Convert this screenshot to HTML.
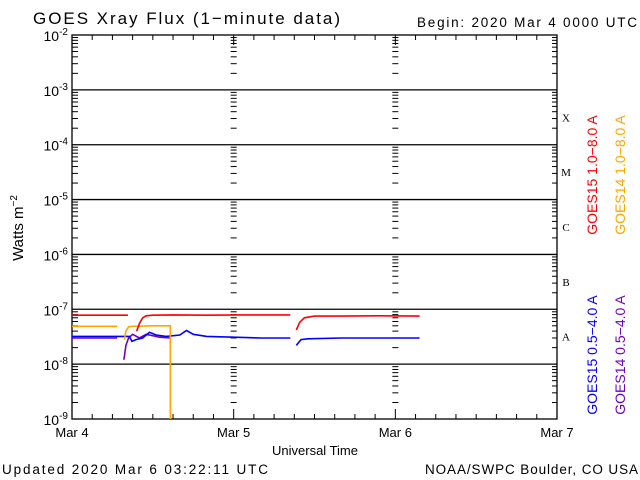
<!DOCTYPE html>
<html><head><meta charset="utf-8"><style>
body{margin:0;background:#fff}
svg{display:block;font-family:"Liberation Sans",sans-serif}
</style></head><body>
<svg id="c" width="640" height="480" viewBox="0 0 640 480">
<rect width="640" height="480" fill="#fff"/>
<text x="33" y="24" font-size="17" textLength="307" lengthAdjust="spacing">GOES Xray Flux (1−minute data)</text>
<text x="417" y="27" font-size="13.5" textLength="220" lengthAdjust="spacing">Begin:  2020 Mar 4 0000 UTC</text>
<text transform="translate(23,228) rotate(-90)" font-size="15" text-anchor="middle">Watts m<tspan dy="-6" font-size="10">−2</tspan></text>
<text x="315" y="455" font-size="13" text-anchor="middle">Universal Time</text>
<text x="2" y="474" font-size="13.5" textLength="266" lengthAdjust="spacing">Updated 2020 Mar  6 03:22:11 UTC</text>
<text x="425" y="474" font-size="13.5" textLength="213" lengthAdjust="spacing">NOAA/SWPC Boulder, CO USA</text>
<text transform="translate(597,175) rotate(-90)" font-size="14" fill="#f00" text-anchor="middle">GOES15 1.0−8.0 A</text>
<text transform="translate(625,175) rotate(-90)" font-size="14" fill="#ffa500" text-anchor="middle">GOES14 1.0−8.0 A</text>
<text transform="translate(597,355) rotate(-90)" font-size="14" fill="#00f" text-anchor="middle">GOES15 0.5−4.0 A</text>
<text transform="translate(625,355) rotate(-90)" font-size="14" fill="#7000c0" text-anchor="middle">GOES14 0.5−4.0 A</text>
<g id="g"></g>
</svg>
<script>
const yTickExps=[-2,-3,-4,-5,-6,-7,-8,-9];
const xTickLabels=["Mar 4","Mar 5","Mar 6","Mar 7"];
const classLabels=["X","M","C","B","A"];
const classExps=[-3.5,-4.5,-5.5,-6.5,-7.5];
// times in hours since Mar 4 00:00, values in W/m^2 (null = gap)
const redT=[0,8.3,8.4,9.6,10,10.5,11,12,15,20,25,30,32.4,32.5,33.3,33.8,34.5,36,40,45,51.6];
const redV=[7.8e-8,7.8e-8,null,4.0e-8,5.5e-8,7.0e-8,7.6e-8,7.8e-8,7.9e-8,7.8e-8,7.9e-8,7.9e-8,7.9e-8,null,4.2e-8,5.8e-8,7.0e-8,7.5e-8,7.5e-8,7.6e-8,7.5e-8];
const orT=[0,6.7,6.8,7.8,8.0,8.4,9,12,14.6,14.61];
const orV=[4.9e-8,4.9e-8,null,2.8e-8,4.0e-8,4.8e-8,4.9e-8,5.0e-8,5.0e-8,5e-10];
const blT=[0,5,8.5,8.9,9.5,10.5,11.5,12.5,14,16,17,18,20,24,28,32.4,32.5,33.3,34,35,40,45,51.6];
const blV=[3.2e-8,3.2e-8,3.2e-8,2.6e-8,2.8e-8,3.0e-8,3.8e-8,3.4e-8,3.2e-8,3.4e-8,4.1e-8,3.5e-8,3.2e-8,3.1e-8,3.0e-8,3.0e-8,null,2.2e-8,2.8e-8,2.9e-8,3.0e-8,3.0e-8,3.0e-8];
const puT=[0,6.7,6.8,7.7,8.0,8.4,9,10,11,12,13,14.6];
const puV=[3.0e-8,3.0e-8,null,1.2e-8,2.2e-8,3.0e-8,3.5e-8,3.0e-8,3.5e-8,3.3e-8,3.1e-8,3.0e-8];

const X0=72,X1=557,Y0=35,Y1=419,NS="http://www.w3.org/2000/svg";
const sx=h=>X0+(X1-X0)*h/72;
const sy=v=>{let e=Math.log10(v);return Y0+(-2-e)/7*(Y1-Y0);};
const g=document.getElementById('g');
function mk(t,a){const e=document.createElementNS(NS,t);for(const k in a)e.setAttribute(k,a[k]);g.appendChild(e);return e;}
let fr=mk('rect',{x:X0,y:Y0,width:X1-X0,height:Y1-Y0,fill:'none',stroke:'#000','stroke-width':1.3});


yTickExps.forEach(e=>{const y=sy(Math.pow(10,e));
 if(e>-9&&e<-2){const l=mk('line',{x1:X0,x2:X1,y1:y,y2:y,stroke:'#000','stroke-width':1.3});
 
 }
 const t=mk('text',{x:68,y:y+6,'font-size':14,'text-anchor':'end'});
 
 
 t.innerHTML='10<tspan dy="-6" font-size="10">'+e+'</tspan>';
 if(e>-9){for(let m=2;m<=9;m++){const yy=sy(m*Math.pow(10,e-1));
  [X0,sx(24)-3,sx(48)-3].forEach(xx=>mk('line',{x1:xx,x2:xx+6,y1:yy,y2:yy,stroke:'#000'}));
  mk('line',{x1:X1-5,x2:X1,y1:yy,y2:yy,stroke:'#000'});}}
});
for(let h=0;h<=72;h+=3){const x=sx(h),L=h%24==0?10:5;
 mk('line',{x1:x,x2:x,y1:Y1,y2:Y1-L,stroke:'#000'});mk('line',{x1:x,x2:x,y1:Y0,y2:Y0+L,stroke:'#000'});}
xTickLabels.forEach((s,i)=>{const t=mk('text',{x:sx(i*24),y:437,'font-size':13,'text-anchor':'middle'});t.textContent=s;
 
 });
classLabels.forEach((s,i)=>{const t=mk('text',{x:566,y:sy(Math.pow(10,classExps[i]))+4,'font-size':11,'text-anchor':'middle','font-family':'Liberation Serif'});t.textContent=s;
 
 });
function series(T,V,col,name){let d='',pen=false;
 T.forEach((t,i)=>{if(V[i]==null){pen=false;return;}
  let y=Math.min(sy(V[i]),Y1);d+=(pen?'L':'M')+sx(t).toFixed(1)+' '+y.toFixed(1)+' ';pen=true;});
 const p=mk('path',{d:d,fill:'none',stroke:col,'stroke-width':1.6});
 
 }
series(puT,puV,'#7000c0','series-goes14-short');
series(blT,blV,'#0000ff','series-goes15-short');
series(orT,orV,'#ffa500','series-goes14-long');
series(redT,redV,'#ff0000','series-goes15-long');
</script>
</body></html>
